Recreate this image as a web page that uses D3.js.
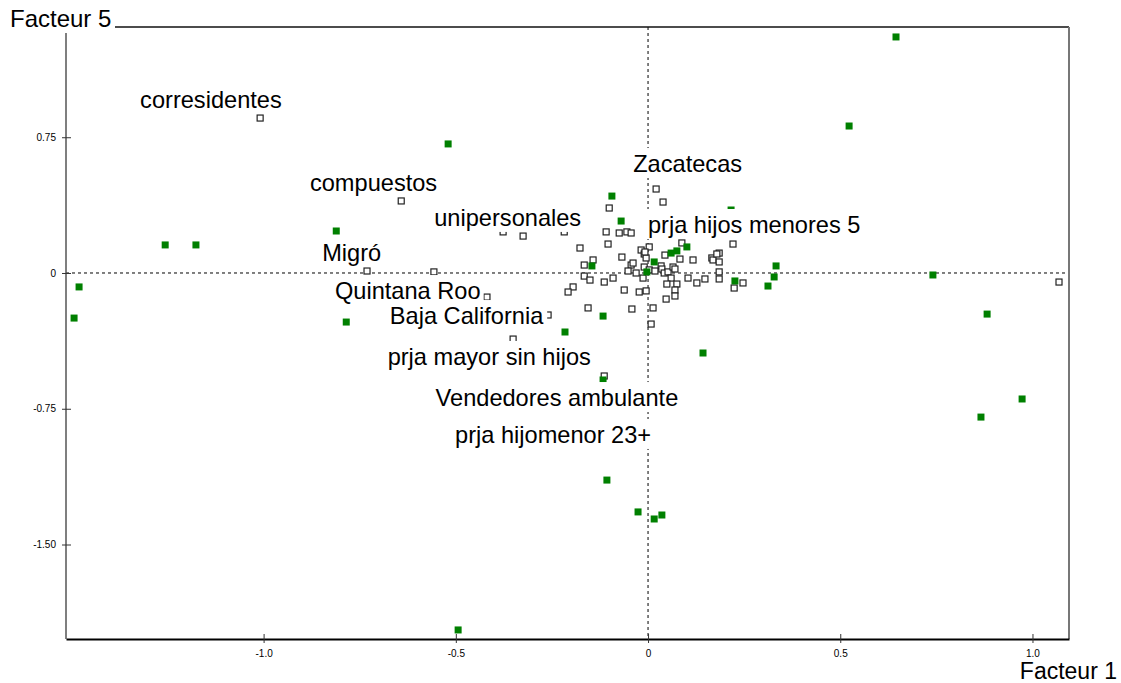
<!DOCTYPE html>
<html>
<head>
<meta charset="utf-8">
<script src="https://cdn.jsdelivr.net/npm/d3@7"></script>
<style>
  body { margin: 0; background: #fff; }
  svg { display: block; font-family: "Liberation Sans", Arial, sans-serif; }
</style>
</head>
<body>
<script>

// axis ticks
const xTicks = [-1.0, -0.5, 0, 0.5, 1.0];
const xTickLabels = ["-1.0", "-0.5", "0", "0.5", "1.0"];
const yTicks = [0.75, 0, -0.75, -1.5];
const yTickLabels = ["0.75", "0", "-0.75", "-1.50"];

// active modalities (green) : [facteur 1, facteur 5]
const greenPoints = [
  [0.645, 1.304], [0.523, 0.812], [-0.520, 0.713], [-0.811, 0.232],
  [-1.256, 0.155], [-1.176, 0.155], [-1.480, -0.077], [-1.493, -0.249],
  [-0.785, -0.271], [-0.216, -0.326], [-0.117, -0.238], [-0.117, -0.591],
  [-0.107, -1.144], [-0.026, -1.320], [0.016, -1.359], [0.036, -1.337],
  [-0.494, -1.972], [0.143, -0.442], [0.866, -0.796], [0.973, -0.696],
  [0.882, -0.227], [0.741, -0.011], [0.312, -0.072], [0.328, -0.022],
  [0.333, 0.039], [0.226, -0.044], [0.216, 0.348], [-0.094, 0.425],
  [-0.070, 0.287], [-0.146, 0.039], [0.075, 0.122], [0.101, 0.144],
  [0.016, 0.061], [-0.003, 0.006], [0.060, 0.110]
];

// supplementary modalities (open squares)
const whitePoints = [
  [-1.009, 0.856], [-0.642, 0.398], [-0.731, 0.011], [-0.557, 0.006],
  [-0.419, -0.133], [-0.351, -0.365], [-0.260, -0.232], [-0.377, 0.227],
  [-0.325, 0.204], [1.069, -0.050], [-0.114, -0.569], [-0.218, 0.227],
  [0.021, 0.464], [0.039, 0.392], [-0.101, 0.359], [-0.109, 0.227],
  [-0.075, 0.221], [-0.055, 0.227], [-0.044, 0.221], [-0.177, 0.138],
  [-0.104, 0.160], [-0.018, 0.127], [-0.010, 0.105], [0.003, 0.144],
  [-0.005, 0.083], [-0.068, 0.088], [-0.143, 0.072], [-0.166, 0.044],
  [-0.044, 0.044], [-0.039, 0.055], [-0.052, 0.011], [-0.010, 0.033],
  [0.034, 0.039], [0.036, 0.022], [0.044, 0.099], [-0.031, 0.000],
  [0.003, 0.017], [0.018, 0.011], [0.042, 0.000], [0.052, 0.006],
  [0.065, 0.033], [0.070, 0.022], [0.083, 0.077], [0.117, 0.072],
  [0.166, 0.083], [0.169, 0.072], [0.185, 0.110], [0.185, 0.061],
  [0.221, 0.160], [-0.166, -0.017], [-0.151, -0.039], [-0.114, -0.050],
  [-0.091, -0.028], [-0.013, -0.028], [0.060, -0.028], [0.049, -0.061],
  [0.075, -0.061], [0.070, -0.094], [0.070, -0.127], [0.047, -0.144],
  [0.104, -0.028], [0.127, -0.055], [0.148, -0.033], [0.185, -0.033],
  [0.185, 0.006], [0.224, -0.083], [0.247, -0.055], [-0.195, -0.077],
  [-0.208, -0.105], [-0.062, -0.094], [-0.023, -0.105], [-0.005, -0.099],
  [-0.156, -0.193], [-0.042, -0.199], [0.013, -0.193], [0.008, -0.282],
  [0.179, 0.105], [0.088, 0.166], [-0.008, 0.116]
];

// labels, placed at (centre x, baseline y) in factor units
const labelText = ["corresidentes", "compuestos", "unipersonales", "Migró",
  "Quintana Roo", "Baja California", "prja mayor sin hijos",
  "Vendedores ambulante", "prja hijomenor 23+", "Zacatecas",
  "prja hijos menores 5"];
const labelX = [-1.137, -0.714, -0.365, -0.771, -0.625, -0.472, -0.413,
  -0.237, -0.247, 0.103, 0.276];
const labelY = [0.912, 0.453, 0.260, 0.066, -0.144, -0.282, -0.508,
  -0.735, -0.939, 0.558, 0.221];

const w = 1121;
const h = 683;
const plotLeft = 66, plotRight = 1069, plotTop = 27, plotBottom = 639;

const x = d3.scaleLinear().domain([-1.514, 1.095]).range([plotLeft, plotRight]);
const y = d3.scaleLinear().domain([-2.022, 1.359]).range([plotBottom, plotTop]);

const svg = d3.select("body").append("svg")
  .attr("width", w)
  .attr("height", h);

// dashed origin lines
svg.append("line")
  .attr("x1", plotLeft).attr("x2", plotRight)
  .attr("y1", y(0)).attr("y2", y(0))
  .attr("stroke", "#000").attr("stroke-dasharray", "3,3");
svg.append("line")
  .attr("x1", x(0)).attr("x2", x(0))
  .attr("y1", plotTop).attr("y2", plotBottom)
  .attr("stroke", "#000").attr("stroke-dasharray", "3,3");

// frame: top line and right border
svg.append("line")
  .attr("x1", 115).attr("x2", plotRight)
  .attr("y1", plotTop).attr("y2", plotTop)
  .attr("stroke", "#111").attr("stroke-width", 1.5);
svg.append("line")
  .attr("x1", plotRight).attr("x2", plotRight)
  .attr("y1", plotTop).attr("y2", plotBottom)
  .attr("stroke", "#777").attr("stroke-width", 2);

// x axis
const xAxis = svg.append("g")
  .attr("transform", "translate(0," + plotBottom + ")")
  .call(d3.axisBottom(x).tickValues(xTicks)
    .tickFormat((d, i) => xTickLabels[i]).tickSizeOuter(0));
xAxis.select(".domain").attr("stroke", "#000").attr("stroke-width", 2);
xAxis.selectAll(".tick line").attr("y1", -5).attr("y2", 4).attr("stroke", "#333");
xAxis.selectAll(".tick text")
  .attr("y", 18).attr("dy", null)
  .attr("font-size", 10).attr("font-family", "Liberation Sans, Arial").attr("fill", "#000");

// y axis
const yAxis = svg.append("g")
  .attr("transform", "translate(" + plotLeft + ",0)")
  .call(d3.axisLeft(y).tickValues(yTicks)
    .tickFormat((d, i) => yTickLabels[i]).tickSizeOuter(0));
yAxis.select(".domain").attr("d", "M0," + (plotTop + 6) + "V" + plotBottom)
  .attr("stroke", "#555").attr("stroke-width", 1.5);
yAxis.selectAll(".tick line").attr("x1", -4).attr("x2", 5).attr("stroke", "#333");
yAxis.selectAll(".tick text")
  .attr("x", -10)
  .attr("font-size", 10).attr("font-family", "Liberation Sans, Arial").attr("fill", "#000");

// points
const sq = 7;
svg.append("g").selectAll("rect")
  .data(whitePoints)
  .enter().append("rect")
  .attr("x", d => x(d[0]) - sq / 2 + 0.5)
  .attr("y", d => y(d[1]) - sq / 2 + 0.5)
  .attr("width", sq - 1).attr("height", sq - 1)
  .attr("fill", "#fff").attr("stroke", "#222").attr("stroke-width", 1.2);

svg.append("g").selectAll("rect")
  .data(greenPoints)
  .enter().append("rect")
  .attr("x", d => x(d[0]) - sq / 2)
  .attr("y", d => y(d[1]) - sq / 2)
  .attr("width", sq).attr("height", sq)
  .attr("fill", "#008000");

// labels with white boxes behind them
const labels = svg.append("g").selectAll("g")
  .data(labelText)
  .enter().append("g");

labels.append("text")
  .attr("x", (d, i) => x(labelX[i]))
  .attr("y", (d, i) => y(labelY[i]))
  .attr("text-anchor", "middle")
  .attr("font-size", 23.6)
  .attr("fill", "#000")
  .text(d => d);

labels.each(function() {
  const g = d3.select(this);
  const b = g.select("text").node().getBBox();
  g.insert("rect", "text")
    .attr("x", b.x - 3).attr("y", b.y - 3)
    .attr("width", b.width + 6).attr("height", b.height + 4)
    .attr("fill", "#fff");
});

// axis titles
svg.append("text")
  .attr("x", 10).attr("y", 27)
  .attr("font-size", 24)
  .text("Facteur 5");
svg.append("text")
  .attr("x", 1117).attr("y", 679)
  .attr("text-anchor", "end")
  .attr("font-size", 23)
  .text("Facteur 1");

</script>
</body>
</html>
